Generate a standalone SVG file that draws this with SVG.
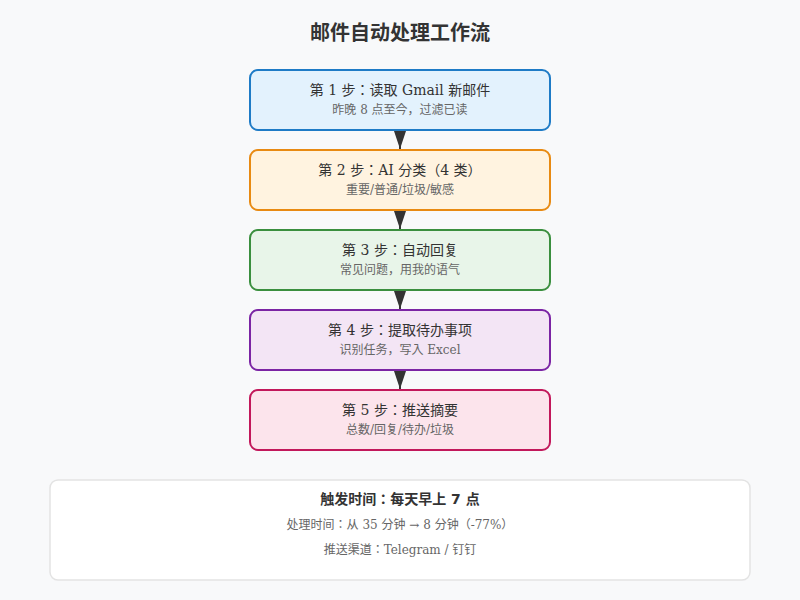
<svg xmlns="http://www.w3.org/2000/svg" width="800" height="600" viewBox="0 0 800 600">
<style>
.t{font-family:"DejaVu Serif","Noto Sans CJK JP",serif;font-size:14px;fill:#333;text-anchor:middle}
.s{font-family:"DejaVu Serif","Noto Sans CJK JP",serif;font-size:12px;fill:#666;text-anchor:middle}
.box{stroke-width:2}
.conn line{stroke:#333;stroke-width:2}
</style>
<defs>
<marker id="arr" viewBox="0 0 18 12" refX="18" refY="6" markerWidth="18" markerHeight="12" orient="auto" markerUnits="userSpaceOnUse">
<path d="M0,0 L18,6 L0,12 Z" fill="#333"/>
</marker>
</defs>
<rect width="800" height="600" fill="#f8f9fa"/>
<text x="400" y="40" text-anchor="middle" font-family="DejaVu Sans,'Noto Sans CJK JP',sans-serif" font-size="20" font-weight="bold" fill="#333">邮件自动处理工作流</text>
<g id="connectors" class="conn">
<line x1="400" y1="130" x2="400" y2="149" marker-end="url(#arr)"/>
<line x1="400" y1="210" x2="400" y2="229" marker-end="url(#arr)"/>
<line x1="400" y1="290" x2="400" y2="309" marker-end="url(#arr)"/>
<line x1="400" y1="370" x2="400" y2="389" marker-end="url(#arr)"/>
</g>
<g id="step1">
<rect class="box" x="250" y="70" width="300" height="60" rx="8" fill="#e3f2fd" stroke="#1e7bc6"/>
<text class="t" x="400" y="95">第 1 步：读取 Gmail 新邮件</text>
<text class="s" x="400" y="114">昨晚 8 点至今，过滤已读</text>
</g>
<g id="step2">
<rect class="box" x="250" y="150" width="300" height="60" rx="8" fill="#fff3e0" stroke="#e88a12"/>
<text class="t" x="400" y="175">第 2 步：AI 分类（4 类）</text>
<text class="s" x="400" y="194">重要/普通/垃圾/敏感</text>
</g>
<g id="step3">
<rect class="box" x="250" y="230" width="300" height="60" rx="8" fill="#e8f5e9" stroke="#3a8f3e"/>
<text class="t" x="400" y="255">第 3 步：自动回复</text>
<text class="s" x="400" y="274">常见问题，用我的语气</text>
</g>
<g id="step4">
<rect class="box" x="250" y="310" width="300" height="60" rx="8" fill="#f3e5f5" stroke="#7b24a4"/>
<text class="t" x="400" y="335">第 4 步：提取待办事项</text>
<text class="s" x="400" y="354">识别任务，写入 Excel</text>
</g>
<g id="step5">
<rect class="box" x="250" y="390" width="300" height="60" rx="8" fill="#fce4ec" stroke="#c2185b"/>
<text class="t" x="400" y="415">第 5 步：推送摘要</text>
<text class="s" x="400" y="434">总数/回复/待办/垃圾</text>
</g>
<g id="summary">
<rect x="50" y="480" width="700" height="100" rx="8" fill="#ffffff" stroke="#e3e3e3" stroke-width="1.5"/>
<text x="400" y="504" text-anchor="middle" font-family="DejaVu Sans,'Noto Sans CJK JP',sans-serif" font-size="14" font-weight="bold" fill="#333">触发时间：每天早上 7 点</text>
<text class="s" x="400" y="529">处理时间：从 35 分钟 → 8 分钟（-77%）</text>
<text class="s" x="400" y="554">推送渠道：Telegram / 钉钉</text>
</g>
</svg>
